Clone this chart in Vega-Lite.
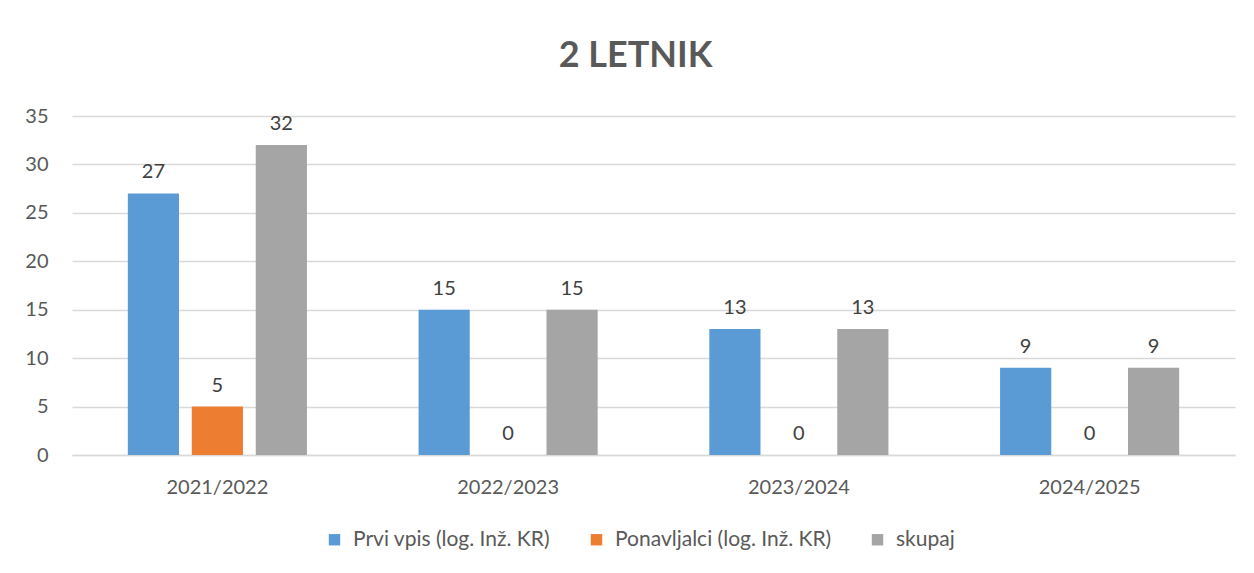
{
  "$schema": "https://vega.github.io/schema/vega-lite/v6.json",
  "autosize": {"type": "none"},
  "width": 1163,
  "height": 339,
  "padding": {"left": 72, "top": 116, "right": 19, "bottom": 118},
  "background": "white",
  "title": {"text": "2 LETNIK", "font": "Lato", "fontSize": 36, "fontWeight": "bold", "color": "#595959", "offset": 31, "dx": -18, "anchor": "middle"},
  "config": {
    "view": {"stroke": null},
    "font": "Lato"
  },
  "data": {"values": [
    {"leto": "2021/2022", "serija": "Prvi vpis (log. Inž. KR)", "vrednost": 27},
    {"leto": "2021/2022", "serija": "Ponavljalci (log. Inž. KR)", "vrednost": 5},
    {"leto": "2021/2022", "serija": "skupaj", "vrednost": 32},
    {"leto": "2022/2023", "serija": "Prvi vpis (log. Inž. KR)", "vrednost": 15},
    {"leto": "2022/2023", "serija": "Ponavljalci (log. Inž. KR)", "vrednost": 0},
    {"leto": "2022/2023", "serija": "skupaj", "vrednost": 15},
    {"leto": "2023/2024", "serija": "Prvi vpis (log. Inž. KR)", "vrednost": 13},
    {"leto": "2023/2024", "serija": "Ponavljalci (log. Inž. KR)", "vrednost": 0},
    {"leto": "2023/2024", "serija": "skupaj", "vrednost": 13},
    {"leto": "2024/2025", "serija": "Prvi vpis (log. Inž. KR)", "vrednost": 9},
    {"leto": "2024/2025", "serija": "Ponavljalci (log. Inž. KR)", "vrednost": 0},
    {"leto": "2024/2025", "serija": "skupaj", "vrednost": 9}
  ]},
  "encoding": {
    "x": {"field": "leto", "type": "nominal", "sort": null,
      "scale": {"paddingInner": 0.34, "paddingOuter": 0.17},
      "axis": {"title": null, "labelAngle": 0, "labelFontSize": 20, "labelColor": "#595959", "labelFont": "Lato", "ticks": false, "domainColor": "#D9D9D9", "domainWidth": 1.5, "labelPadding": 22}},
    "xOffset": {"field": "serija", "type": "nominal",
      "sort": ["Prvi vpis (log. Inž. KR)", "Ponavljalci (log. Inž. KR)", "skupaj"],
      "scale": {"paddingInner": 0.2, "paddingOuter": 0.1}},
    "y": {"field": "vrednost", "type": "quantitative",
      "scale": {"domain": [0, 35], "nice": false},
      "axis": {"title": null, "values": [0, 5, 10, 15, 20, 25, 30, 35], "domain": false, "ticks": false, "gridColor": "#D9D9D9", "gridWidth": 1.5, "labelFontSize": 20, "labelColor": "#595959", "labelFont": "Lato", "labelPadding": 24}}
  },
  "layer": [
    {
      "mark": {"type": "bar"},
      "encoding": {
        "color": {"field": "serija", "type": "nominal",
          "sort": ["Prvi vpis (log. Inž. KR)", "Ponavljalci (log. Inž. KR)", "skupaj"],
          "scale": {"domain": ["Prvi vpis (log. Inž. KR)", "Ponavljalci (log. Inž. KR)", "skupaj"], "range": ["#5B9BD5", "#ED7D31", "#A5A5A5"]},
          "legend": {"title": null, "orient": "none", "legendX": 252, "legendY": 413, "direction": "horizontal", "symbolType": "square", "symbolSize": 130, "symbolStrokeWidth": 0, "labelFontSize": 21, "labelColor": "#595959", "labelFont": "Lato", "labelOffset": 8, "labelLimit": 0, "columnPadding": 35}}
      }
    },
    {
      "mark": {"type": "text", "baseline": "alphabetic", "dy": -15, "fontSize": 20, "color": "#404040", "font": "Lato"},
      "encoding": {"text": {"field": "vrednost", "type": "quantitative"}}
    }
  ]
}
